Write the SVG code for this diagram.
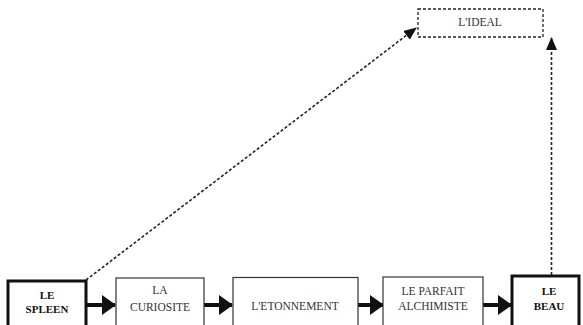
<svg xmlns="http://www.w3.org/2000/svg" width="583" height="325" viewBox="0 0 583 325">
<defs>
<style>
.thin{fill:#fff;stroke:#333;stroke-width:1.2}
.thick{fill:#fff;stroke:#111;stroke-width:3}
.dbox{fill:#fff;stroke:#222;stroke-width:1.3;stroke-dasharray:3,2}
text{font-family:'Liberation Serif','DejaVu Serif','Times New Roman',serif;font-size:11.5px;text-anchor:middle}
.t{fill:#333}
.b{font-weight:bold;fill:#111;font-size:11px}
.solid{stroke:#111;stroke-width:4;fill:none}
.dash{stroke:#222;stroke-width:1.6;fill:none;stroke-dasharray:3,2}
</style>
<marker id="big" markerWidth="14" markerHeight="20" refX="13" refY="10" orient="auto" markerUnits="userSpaceOnUse">
<path d="M0,0 L14,10 L0,20 Z" fill="#111"/>
</marker>
<marker id="small" markerWidth="13" markerHeight="11" refX="12" refY="5.5" orient="auto" markerUnits="userSpaceOnUse">
<path d="M0,0 L13,5.5 L0,11 Z" fill="#111"/>
</marker>
</defs>
<g id="connectors">
<line class="solid" x1="87" y1="305" x2="115" y2="305" marker-end="url(#big)"/>
<line class="solid" x1="204" y1="305" x2="232" y2="305" marker-end="url(#big)"/>
<line class="solid" x1="358" y1="305" x2="383" y2="305" marker-end="url(#big)"/>
<line class="solid" x1="483" y1="305" x2="511" y2="305" marker-end="url(#big)"/>
<line class="dash" x1="86" y1="280" x2="416" y2="28" marker-end="url(#small)"/>
<line class="dash" x1="551.5" y1="275" x2="551.5" y2="38" marker-end="url(#small)"/>
</g>
<g id="spleen">
<rect class="thick" x="8" y="281" width="78" height="48"/>
<text class="b" x="47" y="299">LE</text>
<text class="b" x="47" y="313">SPLEEN</text>
</g>
<g id="curiosite">
<rect class="thin" x="116" y="278" width="88" height="50"/>
<text class="t" x="160" y="294">LA</text>
<text class="t" x="160" y="311">CURIOSITE</text>
</g>
<g id="etonnement">
<rect class="thin" x="233" y="277.5" width="125" height="50"/>
<text class="t" x="295" y="310">L'ETONNEMENT</text>
</g>
<g id="alchimiste">
<rect class="thin" x="383" y="277" width="100" height="50"/>
<text class="t" x="433" y="295">LE PARFAIT</text>
<text class="t" x="433" y="310">ALCHIMISTE</text>
</g>
<g id="beau">
<rect class="thick" x="512" y="276" width="67" height="52"/>
<text class="b" x="549" y="295">LE</text>
<text class="b" x="549" y="310">BEAU</text>
</g>
<g id="ideal">
<rect class="dbox" x="418" y="9" width="125" height="28"/>
<text class="t" x="480" y="26">L'IDEAL</text>
</g>
</svg>
